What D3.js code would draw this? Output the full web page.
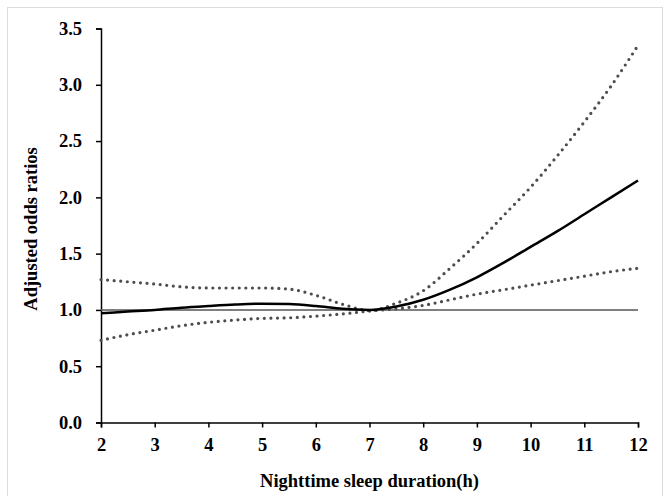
<!DOCTYPE html>
<html>
<head>
<meta charset="utf-8">
<script src="https://cdn.jsdelivr.net/npm/d3@7"></script>
<style>
  body { margin: 0; background: #fff; }
  svg { display: block; }
  .tick text { font-family: "Liberation Serif", "Times New Roman", serif; font-weight: bold; font-size: 18.5px; fill: #000; }
  .title { font-family: "Liberation Serif", "Times New Roman", serif; font-weight: bold; font-size: 18.5px; fill: #000; }
</style>
</head>
<body>
<script>
// sleep duration (h)
var hours = [2, 2.5, 3, 3.5, 4, 4.5, 5, 5.5, 6, 6.5, 7, 7.5, 8, 8.5, 9, 9.5, 10, 10.5, 11, 11.5, 12];
// adjusted odds ratio and 95% CI bounds
var oddsRatio = [0.97, 0.985, 1.00, 1.02, 1.035, 1.048, 1.055, 1.052, 1.035, 1.01, 1.00, 1.03, 1.09, 1.18, 1.29, 1.42, 1.56, 1.70, 1.85, 2.0, 2.15];
var upperCI = [1.27, 1.25, 1.23, 1.205, 1.195, 1.195, 1.195, 1.185, 1.13, 1.05, 0.995, 1.06, 1.17, 1.37, 1.59, 1.84, 2.09, 2.37, 2.67, 2.99, 3.35];
var lowerCI = [0.73, 0.78, 0.82, 0.86, 0.89, 0.91, 0.925, 0.93, 0.945, 0.965, 0.99, 1.01, 1.04, 1.09, 1.14, 1.18, 1.22, 1.26, 1.30, 1.34, 1.37];
var xTicks = [2, 3, 4, 5, 6, 7, 8, 9, 10, 11, 12];
var yTicks = [0, 0.5, 1.0, 1.5, 2.0, 2.5, 3.0, 3.5];
var refValue = 1.0;

var W = 663, H = 496;
var margin = {top: 28.5, right: 25, bottom: 73.5, left: 101};

var svg = d3.select("body").append("svg")
    .attr("width", W)
    .attr("height", H);

// faint frame around the figure
svg.append("rect")
    .attr("x", 7.5).attr("y", 7.5)
    .attr("width", 655).attr("height", 500)
    .attr("fill", "none")
    .attr("stroke", "#dcdcdc")
    .attr("stroke-width", 1);

var x = d3.scaleLinear().domain([2, 12]).range([margin.left, W - margin.right]);
var y = d3.scaleLinear().domain([0, 3.5]).range([H - margin.bottom, margin.top]);

// axes
var xAxis = svg.append("g")
    .attr("transform", "translate(0," + y(0) + ")")
    .call(d3.axisBottom(x).tickValues(xTicks).tickSize(5).tickPadding(10).tickFormat(d3.format("d")));
var yAxis = svg.append("g")
    .attr("transform", "translate(" + x(2) + ",0)")
    .call(d3.axisLeft(y).tickValues(yTicks).tickSize(5).tickPadding(14).tickFormat(d3.format(".1f")));
[xAxis, yAxis].forEach(function(a) {
  a.select(".domain").attr("stroke", "#000").attr("stroke-width", 1.5);
  a.selectAll(".tick line").attr("stroke", "#000").attr("stroke-width", 1.5);
});

// reference line at OR = 1
svg.append("line")
    .attr("x1", x(2)).attr("x2", x(12))
    .attr("y1", y(refValue)).attr("y2", y(refValue))
    .attr("stroke", "#555")
    .attr("stroke-width", 1.5);

function lineFor(vals) {
  return d3.line()
    .x(function(d, i) { return x(hours[i]); })
    .y(function(d) { return y(d); })
    .curve(d3.curveMonotoneX)(vals);
}

// confidence bounds, dotted
[upperCI, lowerCI].forEach(function(vals) {
  svg.append("path")
      .attr("d", lineFor(vals))
      .attr("fill", "none")
      .attr("stroke", "#4d4d4d")
      .attr("stroke-width", 3.2)
      .attr("stroke-linecap", "round")
      .attr("stroke-dasharray", "0 6.6");
});

// estimate, solid
svg.append("path")
    .attr("d", lineFor(oddsRatio))
    .attr("fill", "none")
    .attr("stroke", "#000")
    .attr("stroke-width", 2.5);

// axis titles
svg.append("text")
    .attr("class", "title")
    .attr("x", (x(2) + x(12)) / 2)
    .attr("y", 487)
    .attr("text-anchor", "middle")
    .text("Nighttime sleep duration(h)");

svg.append("text")
    .attr("class", "title")
    .attr("transform", "translate(37," + 229 + ") rotate(-90)")
    .attr("text-anchor", "middle")
    .text("Adjusted odds ratios");
</script>
</body>
</html>
